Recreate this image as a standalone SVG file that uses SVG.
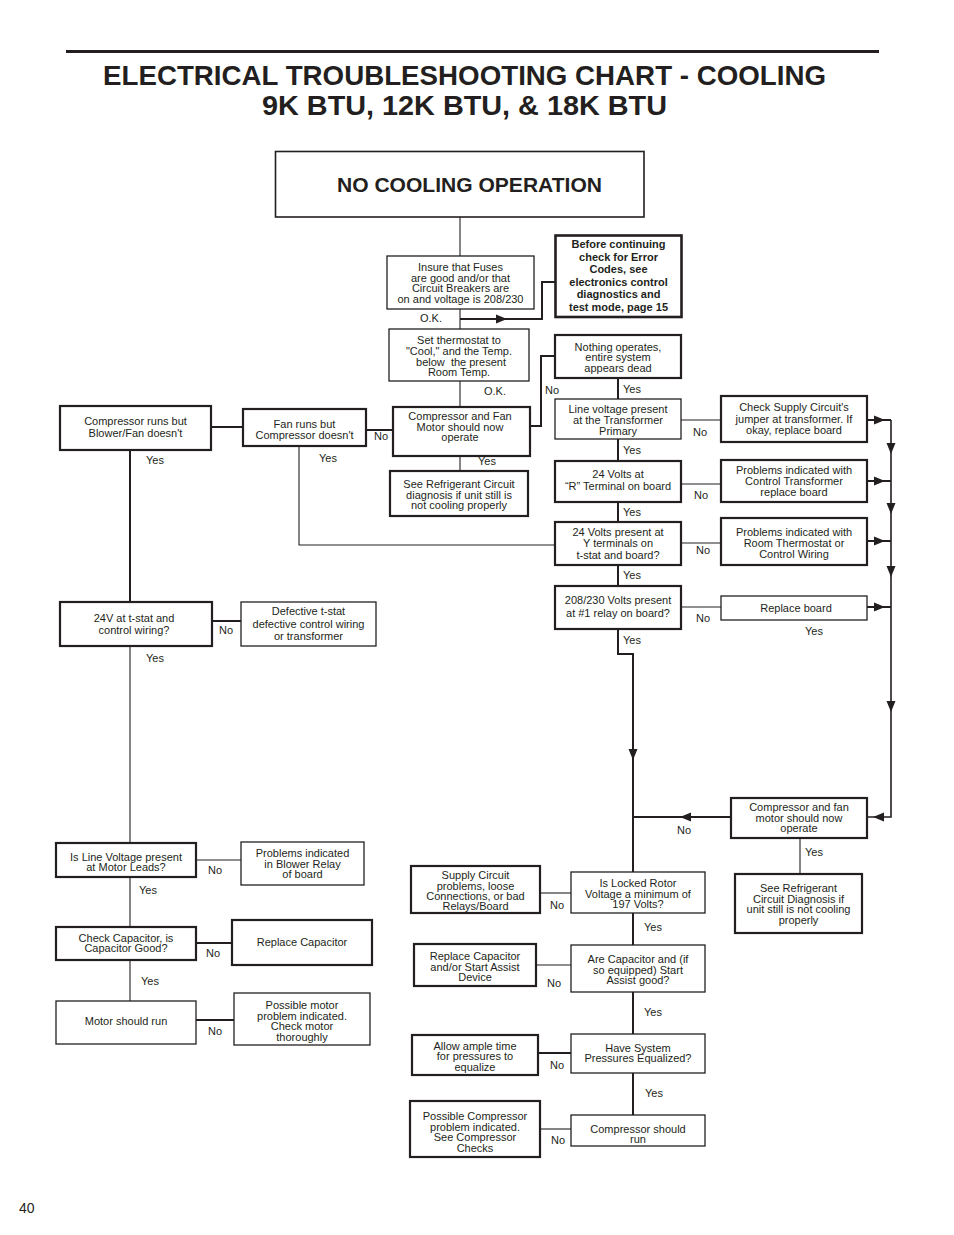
<svg xmlns="http://www.w3.org/2000/svg" xmlns:xlink="http://www.w3.org/1999/xlink" width="954" height="1235" viewBox="0 0 954 1235">
<defs>
<style>
.t{font-family:"Liberation Sans",Arial,sans-serif;font-size:11px;fill:#231f20;text-anchor:middle}
.tb{font-family:"Liberation Sans",Arial,sans-serif;font-size:11px;font-weight:bold;fill:#231f20;text-anchor:middle}
.lb{font-family:"Liberation Sans",Arial,sans-serif;font-size:11px;fill:#231f20;text-anchor:middle}
.b1{fill:#fff;stroke:#231f20;stroke-width:1.3}
.b2{fill:#fff;stroke:#231f20;stroke-width:2.2}
.c1{fill:none;stroke:#231f20;stroke-width:1.1}
.c2{fill:none;stroke:#231f20;stroke-width:2}
.ah{fill:#231f20}
</style>
<path id="ah" class="ah" d="M0,0 L-11,-4.5 L-11,4.5 Z"/>
</defs>
<rect width="954" height="1235" fill="#fff"/>

<g id="header">
<line x1="66" y1="51.5" x2="879" y2="51.5" stroke="#231f20" stroke-width="3"/>
<text x="464.5" y="85" font-family="'Liberation Sans Narrow','Liberation Sans',Arial,sans-serif" font-weight="bold" font-size="28" fill="#231f20" text-anchor="middle" textLength="723" lengthAdjust="spacingAndGlyphs">ELECTRICAL TROUBLESHOOTING CHART - COOLING</text>
<text x="464.5" y="115" font-family="'Liberation Sans Narrow','Liberation Sans',Arial,sans-serif" font-weight="bold" font-size="28" fill="#231f20" text-anchor="middle" textLength="405" lengthAdjust="spacingAndGlyphs">9K BTU, 12K BTU, &amp; 18K BTU</text>
</g>

<g id="connectors">
<line class="c1" x1="460" y1="217" x2="460" y2="256"/>
<line class="c1" x1="460" y1="309" x2="460" y2="329"/>
<polyline class="c2" points="460,319 542,319 542,282 555,282"/>
<use xlink:href="#ah" transform="translate(507,319)"/>
<line class="c1" x1="460" y1="381" x2="460" y2="407"/>
<polyline class="c2" points="530,426 541,426 541,356 555,356"/>
<line class="c1" x1="460" y1="456" x2="460" y2="471"/>
<line class="c2" x1="211" y1="427" x2="243" y2="427"/>
<line class="c2" x1="366" y1="430" x2="393" y2="430"/>
<line class="c2" x1="130" y1="450" x2="130" y2="602"/>
<polyline class="c1" points="299,446 299,545 555,545"/>
<line class="c2" x1="212" y1="621" x2="241" y2="621"/>
<line class="c1" x1="130" y1="646" x2="130" y2="843"/>
<line class="c1" x1="196" y1="860" x2="241" y2="860"/>
<line class="c1" x1="130" y1="877" x2="130" y2="927"/>
<line class="c2" x1="196" y1="943" x2="232" y2="943"/>
<line class="c1" x1="130" y1="960" x2="130" y2="1001"/>
<line class="c2" x1="196" y1="1020" x2="234" y2="1020"/>
<line class="c2" x1="618" y1="378" x2="618" y2="399"/>
<line class="c2" x1="618" y1="439" x2="618" y2="461"/>
<line class="c2" x1="618" y1="502" x2="618" y2="522"/>
<line class="c2" x1="618" y1="565" x2="618" y2="586"/>
<polyline class="c2" points="618,629 618,654 633,654 633,872"/>
<use xlink:href="#ah" transform="translate(633,760) rotate(90)"/>
<line class="c1" x1="681" y1="420" x2="721" y2="420"/>
<line class="c1" x1="681" y1="484" x2="721" y2="484"/>
<line class="c1" x1="681" y1="543" x2="721" y2="543"/>
<line class="c1" x1="681" y1="607" x2="721" y2="607"/>
<line class="c2" x1="867" y1="420" x2="891" y2="420"/>
<line class="c2" x1="867" y1="481" x2="891" y2="481"/>
<line class="c2" x1="867" y1="541" x2="891" y2="541"/>
<line class="c2" x1="867" y1="607" x2="891" y2="607"/>
<use xlink:href="#ah" transform="translate(885,420)"/>
<use xlink:href="#ah" transform="translate(885,481)"/>
<use xlink:href="#ah" transform="translate(885,541)"/>
<use xlink:href="#ah" transform="translate(885,607)"/>
<polyline class="c1" points="891,420 891,817 867,817" style="stroke-width:1.6"/>
<use xlink:href="#ah" transform="translate(891,454) rotate(90)"/>
<use xlink:href="#ah" transform="translate(891,514) rotate(90)"/>
<use xlink:href="#ah" transform="translate(891,577) rotate(90)"/>
<use xlink:href="#ah" transform="translate(891,712) rotate(90)"/>
<use xlink:href="#ah" transform="translate(873,817) rotate(180)"/>
<line class="c2" x1="731" y1="817" x2="633" y2="817"/>
<use xlink:href="#ah" transform="translate(680,817) rotate(180)"/>
<line class="c1" x1="800" y1="838" x2="800" y2="874"/>
<line class="c2" x1="633" y1="913" x2="633" y2="945"/>
<line class="c2" x1="633" y1="992" x2="633" y2="1034"/>
<line class="c2" x1="633" y1="1073" x2="633" y2="1115"/>
<line class="c1" x1="540" y1="893" x2="571" y2="893"/>
<line class="c1" x1="536" y1="965" x2="571" y2="965"/>
<line class="c2" x1="538" y1="1053" x2="571" y2="1053"/>
<line class="c1" x1="540" y1="1129" x2="571" y2="1129"/>
</g>

<g id="n-start">
<rect x="275.5" y="151.5" width="368.5" height="65.5" fill="#fff" stroke="#231f20" stroke-width="1.6"/>
<text x="469.5" y="192" font-family="'Liberation Sans',Arial,sans-serif" font-weight="bold" font-size="20" fill="#231f20" text-anchor="middle" textLength="265" lengthAdjust="spacingAndGlyphs">NO COOLING OPERATION</text>
</g>

<g id="n-insure">
<rect class="b1" x="387" y="256" width="147" height="53"/>
<text class="t" x="460.5" y="271">Insure that Fuses</text>
<text class="t" x="460.5" y="281.5">are good and/or that</text>
<text class="t" x="460.5" y="292">Circuit Breakers are</text>
<text class="t" x="460.5" y="302.5">on and voltage is 208/230</text>
</g>

<g id="n-before">
<rect x="555.5" y="235.5" width="126" height="81.5" fill="#fff" stroke="#231f20" stroke-width="2.6"/>
<text class="tb" x="618.5" y="248">Before continuing</text>
<text class="tb" x="618.5" y="260.5">check for Error</text>
<text class="tb" x="618.5" y="273">Codes, see</text>
<text class="tb" x="618.5" y="285.5">electronics control</text>
<text class="tb" x="618.5" y="298">diagnostics and</text>
<text class="tb" x="618.5" y="310.5">test mode, page 15</text>
</g>

<g id="n-set">
<rect class="b1" x="389" y="329" width="140" height="52"/>
<text class="t" x="459" y="344">Set thermostat to</text>
<text class="t" x="459" y="355">"Cool," and the Temp.</text>
<text class="t" x="461" y="365.5" xml:space="preserve">below  the present</text>
<text class="t" x="459" y="376">Room Temp.</text>
</g>

<g id="n-nothing">
<rect class="b2" x="555" y="335" width="126" height="43"/>
<text class="t" x="618" y="351">Nothing operates,</text>
<text class="t" x="618" y="361">entire system</text>
<text class="t" x="618" y="372">appears dead</text>
</g>

<g id="n-compfan">
<rect class="b2" x="393" y="407" width="137" height="49"/>
<text class="t" x="460" y="420">Compressor and Fan</text>
<text class="t" x="460" y="430.5">Motor should now</text>
<text class="t" x="460" y="441">operate</text>
</g>

<g id="n-seeref1">
<rect class="b2" x="390" y="471" width="138" height="45"/>
<text class="t" x="459" y="488">See Refrigerant Circuit</text>
<text class="t" x="459" y="498.5">diagnosis if unit still is</text>
<text class="t" x="459" y="509">not cooling properly</text>
</g>

<g id="n-linevolt">
<rect class="b1" x="555" y="399" width="126" height="40"/>
<text class="t" x="618" y="413">Line voltage present</text>
<text class="t" x="618" y="424">at the Transformer</text>
<text class="t" x="618" y="435">Primary</text>
</g>

<g id="n-checksupply">
<rect class="b2" x="721" y="396" width="146" height="46"/>
<text class="t" x="794" y="411">Check Supply Circuit's</text>
<text class="t" x="794" y="422.5">jumper at transformer. If</text>
<text class="t" x="794" y="434">okay, replace board</text>
</g>

<g id="n-24r">
<rect class="b2" x="555" y="461" width="126" height="41"/>
<text class="t" x="618" y="478">24 Volts at</text>
<text class="t" x="618" y="490">“R” Terminal on board</text>
</g>

<g id="n-ct">
<rect class="b2" x="721" y="460" width="146" height="42"/>
<text class="t" x="794" y="474">Problems indicated with</text>
<text class="t" x="794" y="485">Control Transformer</text>
<text class="t" x="794" y="495.5">replace board</text>
</g>

<g id="n-24y">
<rect class="b2" x="555" y="522" width="126" height="43"/>
<text class="t" x="618" y="536">24 Volts present at</text>
<text class="t" x="618" y="547">Y terminals on</text>
<text class="t" x="618" y="559">t-stat and board?</text>
</g>

<g id="n-rt">
<rect class="b2" x="721" y="518" width="146" height="47"/>
<text class="t" x="794" y="536">Problems indicated with</text>
<text class="t" x="794" y="547">Room Thermostat or</text>
<text class="t" x="794" y="557.5">Control Wiring</text>
</g>

<g id="n-208">
<rect class="b2" x="555" y="586" width="126" height="43"/>
<text class="t" x="618" y="604">208/230 Volts present</text>
<text class="t" x="618" y="617">at #1 relay on board?</text>
</g>

<g id="n-replaceboard">
<rect class="b1" x="721" y="596" width="146" height="24"/>
<text class="t" x="796" y="612">Replace board</text>
</g>

<g id="n-compruns">
<rect class="b2" x="60" y="406" width="151" height="44"/>
<text class="t" x="135.5" y="425">Compressor runs but</text>
<text class="t" x="135.5" y="437">Blower/Fan doesn't</text>
</g>

<g id="n-fanruns">
<rect class="b2" x="243" y="409" width="123" height="37"/>
<text class="t" x="304.5" y="428">Fan runs but</text>
<text class="t" x="304.5" y="439">Compressor doesn't</text>
</g>

<g id="n-24v">
<rect class="b2" x="60" y="602" width="152" height="44"/>
<text class="t" x="134" y="622">24V at t-stat and</text>
<text class="t" x="134" y="634">control wiring?</text>
</g>

<g id="n-defective">
<rect class="b1" x="241" y="602" width="135" height="44"/>
<text class="t" x="308.5" y="615">Defective t-stat</text>
<text class="t" x="308.5" y="628">defective control wiring</text>
<text class="t" x="308.5" y="640">or transformer</text>
</g>

<g id="n-islinevolt">
<rect class="b2" x="56" y="843" width="140" height="34"/>
<text class="t" x="126" y="861">Is Line Voltage present</text>
<text class="t" x="126" y="871">at Motor Leads?</text>
</g>

<g id="n-blower">
<rect class="b1" x="241" y="842" width="123" height="43"/>
<text class="t" x="302.5" y="857">Problems indicated</text>
<text class="t" x="302.5" y="868">in Blower Relay</text>
<text class="t" x="302.5" y="878">of board</text>
</g>

<g id="n-checkcap">
<rect class="b2" x="56" y="927" width="140" height="33"/>
<text class="t" x="126" y="942">Check Capacitor, is</text>
<text class="t" x="126" y="952">Capacitor Good?</text>
</g>

<g id="n-replacecap">
<rect class="b2" x="232" y="920" width="140" height="45"/>
<text class="t" x="302" y="946">Replace Capacitor</text>
</g>

<g id="n-motorrun">
<rect class="b1" x="56" y="1001" width="140" height="43"/>
<text class="t" x="126" y="1025">Motor should run</text>
</g>

<g id="n-possmotor">
<rect class="b1" x="234" y="993" width="136" height="52"/>
<text class="t" x="302" y="1009">Possible motor</text>
<text class="t" x="302" y="1019.5">problem indicated.</text>
<text class="t" x="302" y="1030">Check motor</text>
<text class="t" x="302" y="1040.5">thoroughly</text>
</g>

<g id="n-compfan2">
<rect class="b2" x="731" y="798" width="136" height="40"/>
<text class="t" x="799" y="811">Compressor and fan</text>
<text class="t" x="799" y="822">motor should now</text>
<text class="t" x="799" y="832">operate</text>
</g>

<g id="n-seeref2">
<rect class="b2" x="735" y="874" width="127" height="59"/>
<text class="t" x="798.5" y="892">See Refrigerant</text>
<text class="t" x="798.5" y="903">Circuit Diagnosis if</text>
<text class="t" x="798.5" y="913">unit still is not cooling</text>
<text class="t" x="798.5" y="924">properly</text>
</g>

<g id="n-locked">
<rect class="b1" x="571" y="872" width="134" height="41"/>
<text class="t" x="638" y="887">Is Locked Rotor</text>
<text class="t" x="638" y="897.5">Voltage a minimum of</text>
<text class="t" x="638" y="908">197 Volts?</text>
</g>

<g id="n-supply">
<rect class="b2" x="411" y="866" width="129" height="47"/>
<text class="t" x="475.5" y="879">Supply Circuit</text>
<text class="t" x="475.5" y="889.5">problems, loose</text>
<text class="t" x="475.5" y="900">Connections, or bad</text>
<text class="t" x="475.5" y="910">Relays/Board</text>
</g>

<g id="n-arecap">
<rect class="b1" x="571" y="945" width="134" height="47"/>
<text class="t" x="638" y="963">Are Capacitor and (if</text>
<text class="t" x="638" y="973.5">so equipped) Start</text>
<text class="t" x="638" y="984">Assist good?</text>
</g>

<g id="n-replacestart">
<rect class="b2" x="414" y="944" width="122" height="42"/>
<text class="t" x="475" y="960">Replace Capacitor</text>
<text class="t" x="475" y="970.5">and/or Start Assist</text>
<text class="t" x="475" y="981">Device</text>
</g>

<g id="n-equalized">
<rect class="b1" x="571" y="1034" width="134" height="39"/>
<text class="t" x="638" y="1052">Have System</text>
<text class="t" x="638" y="1062">Pressures Equalized?</text>
</g>

<g id="n-allow">
<rect class="b2" x="412" y="1035" width="126" height="40"/>
<text class="t" x="475" y="1050">Allow ample time</text>
<text class="t" x="475" y="1060">for pressures to</text>
<text class="t" x="475" y="1071">equalize</text>
</g>

<g id="n-compshould">
<rect class="b1" x="571" y="1115" width="134" height="31"/>
<text class="t" x="638" y="1133">Compressor should</text>
<text class="t" x="638" y="1143">run</text>
</g>

<g id="n-posscomp">
<rect class="b2" x="410" y="1101" width="130" height="56"/>
<text class="t" x="475" y="1120">Possible Compressor</text>
<text class="t" x="475" y="1131">problem indicated.</text>
<text class="t" x="475" y="1141">See Compressor</text>
<text class="t" x="475" y="1152">Checks</text>
</g>

<g id="labels">
<text class="lb" x="431" y="322">O.K.</text>
<text class="lb" x="495" y="395">O.K.</text>
<text class="lb" x="552" y="394">No</text>
<text class="lb" x="381" y="440">No</text>
<text class="lb" x="632" y="393">Yes</text>
<text class="lb" x="632" y="454">Yes</text>
<text class="lb" x="632" y="516">Yes</text>
<text class="lb" x="632" y="579">Yes</text>
<text class="lb" x="632" y="644">Yes</text>
<text class="lb" x="700" y="436">No</text>
<text class="lb" x="701" y="499">No</text>
<text class="lb" x="703" y="554">No</text>
<text class="lb" x="703" y="622">No</text>
<text class="lb" x="814" y="635">Yes</text>
<text class="lb" x="487" y="465">Yes</text>
<text class="lb" x="155" y="464">Yes</text>
<text class="lb" x="328" y="462">Yes</text>
<text class="lb" x="226" y="634">No</text>
<text class="lb" x="155" y="662">Yes</text>
<text class="lb" x="215" y="874">No</text>
<text class="lb" x="148" y="894">Yes</text>
<text class="lb" x="213" y="957">No</text>
<text class="lb" x="150" y="985">Yes</text>
<text class="lb" x="215" y="1035">No</text>
<text class="lb" x="684" y="834">No</text>
<text class="lb" x="814" y="856">Yes</text>
<text class="lb" x="557" y="909">No</text>
<text class="lb" x="653" y="931">Yes</text>
<text class="lb" x="554" y="987">No</text>
<text class="lb" x="653" y="1016">Yes</text>
<text class="lb" x="557" y="1069">No</text>
<text class="lb" x="654" y="1097">Yes</text>
<text class="lb" x="558" y="1144">No</text>
</g>

<g id="page">
<text x="19" y="1213" font-family="'Liberation Sans',Arial,sans-serif" font-size="14" fill="#231f20">40</text>
</g>
</svg>
